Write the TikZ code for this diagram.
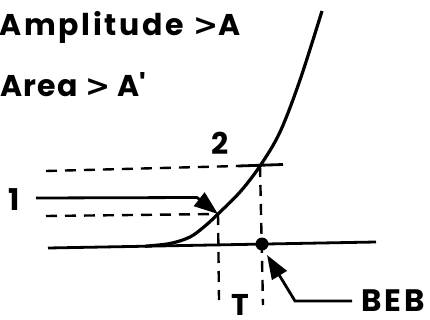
\documentclass[tikz,border=0pt]{standalone}
\usepackage{fontspec}
\newfontfamily\labfont{Poppins}
\newfontfamily\gtfont{DejaVu Sans}
\usetikzlibrary{arrows.meta}
\newcommand{\gtsign}{{\gtfont\bfseries >}}
\begin{document}
\begin{tikzpicture}[x=1pt,y=-1pt,
  lab/.style={font=\labfont\bfseries\fontsize{30}{32}\selectfont, inner sep=0pt},
  thickline/.style={line width=2.8pt},
  curveline/.style={line width=3.2pt},
  dashline/.style={line width=2.4pt, dash pattern=on 11pt off 8pt},
  bigtip/.style={-{Triangle[length=24pt,width=17pt]}}
]
\useasboundingbox (0,0) rectangle (430,320);
% key points
\coordinate (p1) at (218,214);
\coordinate (p2) at (260,166);
\coordinate (dot) at (262,244);
\coordinate (bl0) at (48,248);
\coordinate (bl1) at (376,242);
% texts
\node[lab, anchor=base west] (amp) at (-1,36) {\addfontfeatures{LetterSpace=9}Amplitude \gtsign A};
\node[lab, anchor=base west] (area) at (0,97) {\addfontfeatures{LetterSpace=4}Area \gtsign{} A\textquotesingle};
\node[lab, anchor=base] (two) at (220,155) {2};
\node[lab, anchor=base] (one) at (14,210) {1};
\node[lab, anchor=base] (T) at (240,315) {T};
\node[lab, font=\labfont\bfseries\fontsize{31}{33}\selectfont, anchor=west] (beb) at (361,301) {\addfontfeatures{LetterSpace=10}BEB};
% baseline and curve
\draw[thickline] (bl0) -- (bl1);
\draw[curveline] plot[smooth, tension=0.55] coordinates {(145,246.2) (170,243.5) (190,237) (205,226) (218,214) (240,192) (260,166) (280,132) (300,80) (322,11)};
% threshold lines
\coordinate (d2a) at (46,171);
\coordinate (d2b) at (238,166);
\coordinate (d2c) at (283,164.5);
\draw[dashline] (d2a) -- (d2b);
\draw[thickline] (d2b) -- (d2c);
\coordinate (d1a) at (46,216);
\draw[dashline] (d1a) -- (p1);
% arrow 1
\coordinate (s1) at (36,198);
\coordinate (bend1) at (197,197.5);
\draw[thickline, bigtip] (s1) -- (bend1) -- (p1);
% verticals
\coordinate (v1) at (219,300);
\coordinate (v2) at (263,305);
\draw[dashline] (p1) -- (v1);
\draw[dashline] (p2) -- (v2);
\fill (dot) circle (6.5);
% BEB arrow
\coordinate (bend2) at (295,301);
\coordinate (bebtip) at (267,255);
\draw[thickline, bigtip, shorten <=9pt] (beb.west) -- (bend2) -- (bebtip);
\end{tikzpicture}
\end{document}
